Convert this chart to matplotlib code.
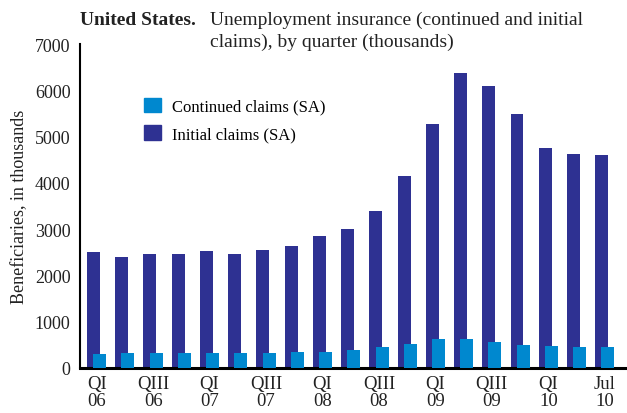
import numpy as np
import matplotlib.pyplot as plt
from matplotlib.patches import Patch

plt.rcParams['font.family'] = ['Liberation Serif', 'DejaVu Serif']

# quarters QI 06 .. QII 10, plus Jul 10
tick_labels = ['QI\n06', 'QIII\n06', 'QI\n07', 'QIII\n07', 'QI\n08',
               'QIII\n08', 'QI\n09', 'QIII\n09', 'QI\n10', 'Jul\n10']
tick_idx = [0, 2, 4, 6, 8, 10, 12, 14, 16, 18]

# dark bars (labelled "Initial claims (SA)" in the source legend)
initial = [2500, 2400, 2460, 2460, 2530, 2460, 2550, 2630, 2850, 3000,
           3390, 4150, 5270, 6370, 6090, 5490, 4750, 4620, 4600]
# light bars (labelled "Continued claims (SA)")
continued = [300, 325, 325, 325, 325, 325, 325, 345, 345, 390,
             455, 520, 625, 625, 560, 500, 475, 455, 455]

dark = '#2E3192'
light = '#0088CF'
txt = '#222222'

x = np.arange(len(initial))

fig = plt.figure(figsize=(6.27, 4.14), dpi=100)
ax = fig.add_axes([0.128, 0.109, 0.869, 0.782])

ax.bar(x - 0.11, initial, width=0.46, color=dark, zorder=2)
ax.bar(x + 0.11, continued, width=0.46, color=light, zorder=3)

ax.set_xlim(-0.58, 18.72)
ax.set_ylim(0, 7000)
ax.set_yticks(range(0, 7001, 1000))
ax.set_xticks(tick_idx)
ax.set_xticklabels(tick_labels, linespacing=0.98)
ax.tick_params(length=0, colors=txt)
ax.tick_params(axis='x', labelsize=13.5, pad=5)
ax.tick_params(axis='y', labelsize=13, pad=7)

for s in ['top', 'right']:
    ax.spines[s].set_visible(False)
ax.spines['left'].set_linewidth(1.5)
ax.spines['bottom'].set_linewidth(2.2)

ax.set_ylabel('Beneficiaries, in thousands', fontsize=13, color=txt, labelpad=5)

handles = [Patch(color=light, label='Continued claims (SA)'),
           Patch(color=dark, label='Initial claims (SA)')]
ax.legend(handles=handles, loc='upper left', bbox_to_anchor=(0.117, 0.835),
          frameon=False, fontsize=12, handlelength=1.0, handleheight=1.0,
          handletextpad=0.7, labelspacing=0.62, borderpad=0, borderaxespad=0)

fig.text(80 / 627, 1 - 25 / 414, 'United States.', fontsize=14, fontweight='bold',
         va='baseline', color=txt)
fig.text(210 / 627, 1 - 25 / 414, 'Unemployment insurance (continued and initial',
         fontsize=14, va='baseline', color=txt)
fig.text(210 / 627, 1 - 47 / 414, 'claims), by quarter (thousands)',
         fontsize=14, va='baseline', color=txt)

fig.savefig('out.png', dpi=100)
